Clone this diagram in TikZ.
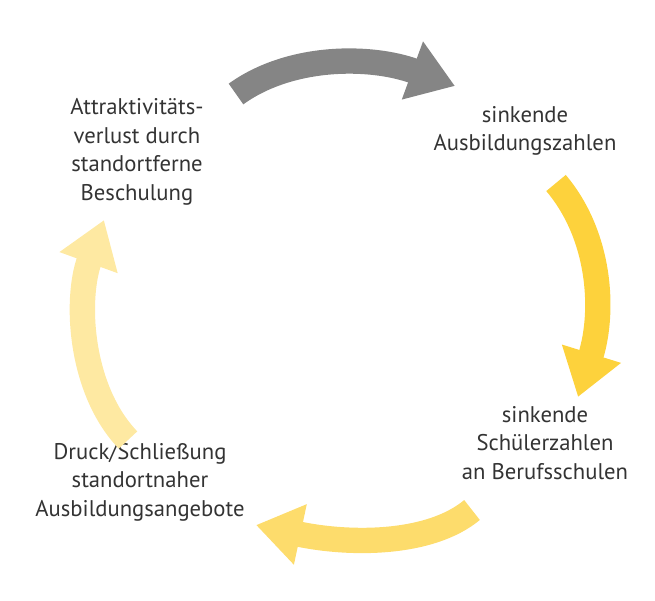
\documentclass[tikz,border=0pt]{standalone}
\usepackage{fontspec}
\setmainfont{PT Sans}
\usetikzlibrary{arrows.meta}
\definecolor{cgray}{HTML}{858585}
\definecolor{cy1}{HTML}{FDD23C}
\definecolor{cy2}{HTML}{FDDC6C}
\definecolor{cy3}{HTML}{FEE9A2}
\begin{document}
\begin{tikzpicture}[x=0.75pt,y=-0.75pt,
  cyc/.style={line width=19pt,-{Triangle[length=34pt,width=44pt]}},
  lbl/.style={align=center,font=\fontsize{17}{21.5}\selectfont,text=black!80}]
\useasboundingbox (0,0) rectangle (655,600);
\node[lbl] (a) at (137,152) {Attraktivitäts-\\verlust durch\\standortferne\\Beschulung};
\node[lbl] (b) at (525,131) {sinkende\\Ausbildungszahlen};
\node[lbl] (c) at (545,443) {sinkende\\Schülerzahlen\\an Berufsschulen};
\node[lbl] (d) at (140,482) {Druck/Schließung\\standortnaher\\Ausbildungsangebote};
\coordinate (g1) at (236,94); \coordinate (g2) at (455,86);
\coordinate (y1) at (556,183); \coordinate (y2) at (578,397);
\coordinate (m1) at (472,510); \coordinate (m2) at (256,525);
\coordinate (l1) at (128,440); \coordinate (l2) at (104,220);
\draw[cyc,cgray] (g1) .. controls (290,55) and (370,55) .. (g2);
\draw[cyc,cy1] (y1) .. controls (600,235) and (605,310) .. (y2);
\draw[cyc,cy2] (m1) .. controls (430,545) and (350,545) .. (m2);
\draw[cyc,cy3] (l1) .. controls (80,390) and (75,300) .. (l2);
\end{tikzpicture}
\end{document}
